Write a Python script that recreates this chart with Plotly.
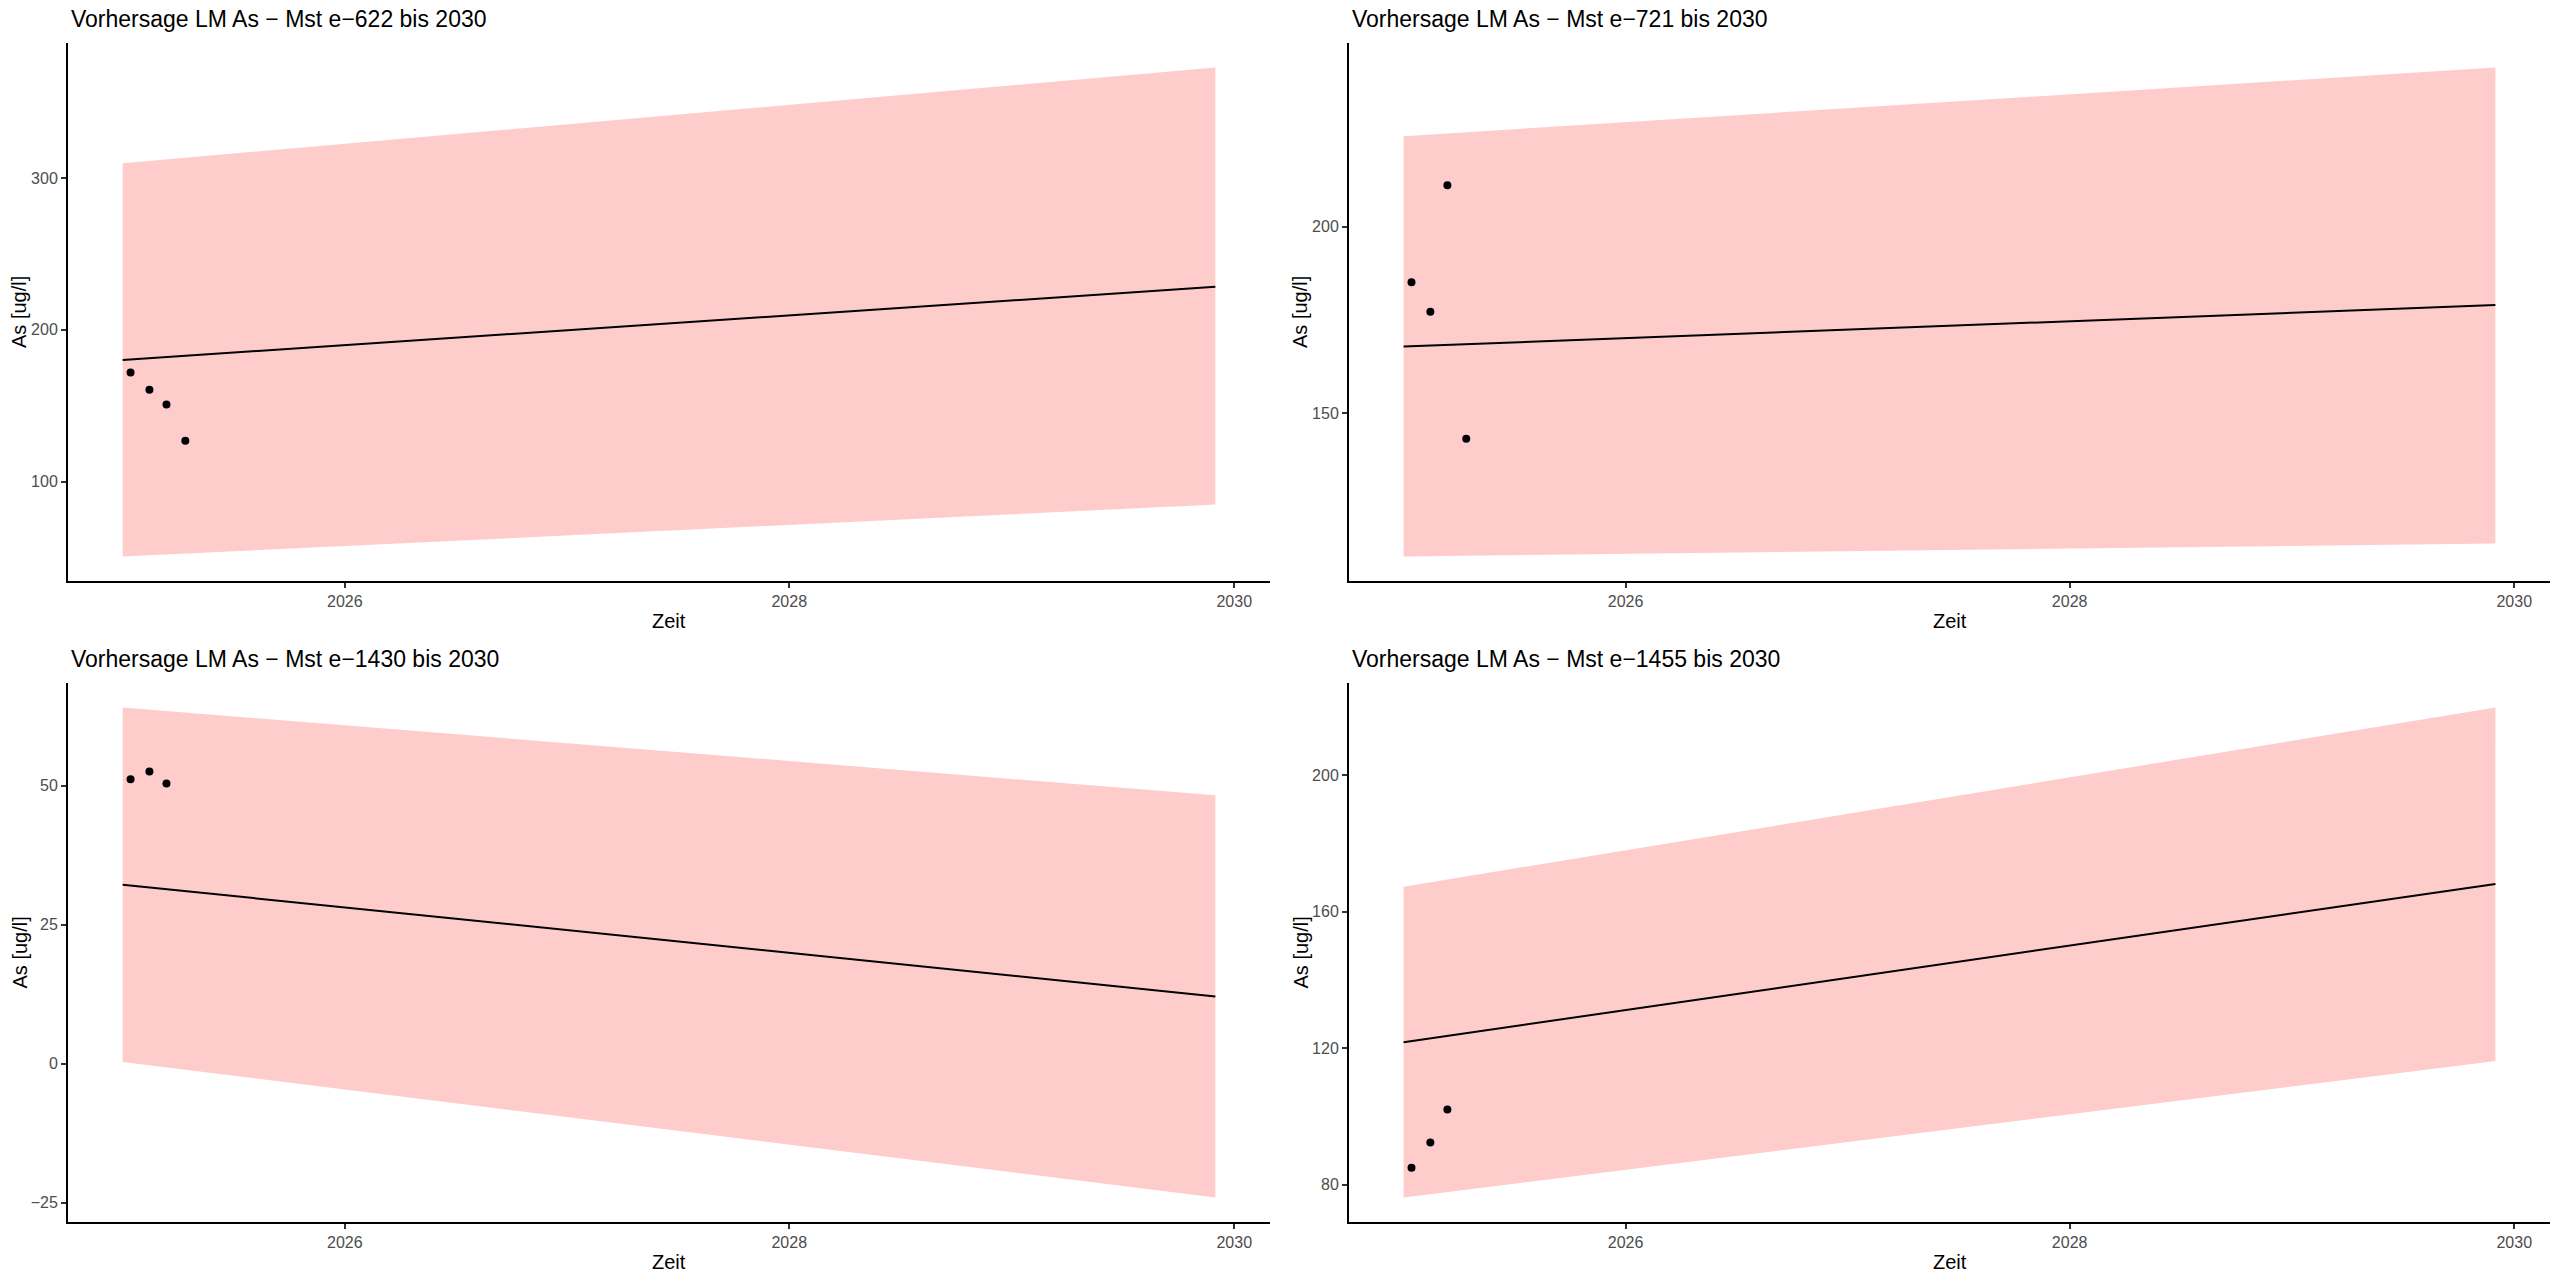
import pandas as pd
import plotly.graph_objects as go

# ---------------- data ----------------
titles = [
    "Vorhersage LM As \u2212 Mst e\u2212622 bis 2030",
    "Vorhersage LM As \u2212 Mst e\u2212721 bis 2030",
    "Vorhersage LM As \u2212 Mst e\u22121430 bis 2030",
    "Vorhersage LM As \u2212 Mst e\u22121455 bis 2030",
]

pred_dates = ["2025-01-01", "2029-12-01"]

fit_622 = [180.2, 228.3]
lower_622 = [50.8, 85.0]
upper_622 = [309.7, 372.7]
obs_dates_622 = ["2025-01-14", "2025-02-14", "2025-03-14", "2025-04-14"]
obs_622 = [172.0, 160.5, 150.9, 127.0]

fit_721 = [167.9, 179.0]
lower_721 = [111.7, 115.2]
upper_721 = [224.2, 242.6]
obs_dates_721 = ["2025-01-14", "2025-02-14", "2025-03-14", "2025-04-14"]
obs_721 = [185.1, 177.2, 211.1, 143.2]

fit_1430 = [32.2, 12.1]
lower_1430 = [0.3, -24.1]
upper_1430 = [64.1, 48.3]
obs_dates_1430 = ["2025-01-14", "2025-02-14", "2025-03-14"]
obs_1430 = [51.2, 52.6, 50.4]

fit_1455 = [121.7, 168.1]
lower_1455 = [76.2, 116.2]
upper_1455 = [167.3, 219.8]
obs_dates_1455 = ["2025-01-14", "2025-02-14", "2025-03-14"]
obs_1455 = [84.9, 92.3, 102.0]

y_dticks = [100, 50, 25, 40]
x_label = "Zeit"
y_label = "As [ug/l]"

panels = [
    (fit_622, lower_622, upper_622, obs_dates_622, obs_622),
    (fit_721, lower_721, upper_721, obs_dates_721, obs_721),
    (fit_1430, lower_1430, upper_1430, obs_dates_1430, obs_1430),
    (fit_1455, lower_1455, upper_1455, obs_dates_1455, obs_1455),
]

# ---------------- layout geometry ----------------
W, H = 2560, 1280
x_doms = [(68, 1270), (1349, 2550)]
y_doms = [(43, 581), (683, 1222)]  # top, bottom in pixels from top

FONT = "Liberation Sans, Arial, Helvetica, sans-serif"

fig = go.Figure()
annotations = []

for i, (fit, lo, up, od, ov) in enumerate(panels):
    r, c = divmod(i, 2)
    xa = "x" if i == 0 else f"x{i+1}"
    ya = "y" if i == 0 else f"y{i+1}"

    # band (polygon)
    fig.add_trace(go.Scatter(
        x=pred_dates + pred_dates[::-1],
        y=lo + up[::-1],
        fill="toself", fillcolor="rgba(255,0,0,0.2)",
        line=dict(width=0), mode="lines", hoverinfo="skip",
        xaxis=xa, yaxis=ya, showlegend=False))
    # fit line
    fig.add_trace(go.Scatter(
        x=pred_dates, y=fit, mode="lines",
        line=dict(color="black", width=2),
        xaxis=xa, yaxis=ya, showlegend=False))
    # observations
    fig.add_trace(go.Scatter(
        x=od, y=ov, mode="markers",
        marker=dict(color="black", size=8),
        xaxis=xa, yaxis=ya, showlegend=False))

    # ranges with ggplot-like 5% expansion
    d_all = pd.to_datetime(pred_dates + od)
    dmin, dmax = d_all.min(), d_all.max()
    span = dmax - dmin
    xr = [dmin - 0.05 * span, dmax + 0.05 * span]
    yvals = lo + up + fit + ov
    ymin, ymax = min(yvals), max(yvals)
    ys = ymax - ymin
    yr = [ymin - 0.05 * ys, ymax + 0.05 * ys]

    x0, x1 = x_doms[c]
    t0, t1 = y_doms[r]
    xd = [x0 / W, x1 / W]
    yd = [1 - t1 / H, 1 - t0 / H]

    axis_common = dict(
        showline=True, linecolor="black", linewidth=2,
        ticks="outside", ticklen=5, tickwidth=1.5, tickcolor="#333333",
        tickfont=dict(family=FONT, size=16, color="#4D4D4D"),
        showgrid=False, zeroline=False,
    )
    fig.layout[("xaxis" if i == 0 else f"xaxis{i+1}")] = dict(
        axis_common, domain=xd, anchor=ya, type="date",
        range=[xr[0].isoformat(), xr[1].isoformat()],
        tick0="2026-01-01", dtick="M24", tickformat="%Y",
    )
    fig.layout[("yaxis" if i == 0 else f"yaxis{i+1}")] = dict(
        axis_common, domain=yd, anchor=xa,
        range=yr, tick0=0, dtick=y_dticks[i],
    )

    # title
    annotations.append(dict(
        text=titles[i], xref="paper", yref="paper",
        x=(x0 + 1) / W, y=1 - (t0 - 24) / H, xanchor="left", yanchor="middle",
        showarrow=False, font=dict(family=FONT, size=23, color="black")))
    # x axis title
    annotations.append(dict(
        text=x_label, xref="paper", yref="paper",
        x=(x0 + x1) / 2 / W, y=1 - (t1 + 40) / H, xanchor="center", yanchor="middle",
        showarrow=False, font=dict(family=FONT, size=20, color="black")))
    # y axis title
    annotations.append(dict(
        text=y_label, xref="paper", yref="paper",
        x=(x0 - 49) / W, y=1 - (t0 + t1) / 2 / H, xanchor="center", yanchor="middle",
        textangle=-90,
        showarrow=False, font=dict(family=FONT, size=20, color="black")))

fig.update_layout(
    width=W, height=H,
    margin=dict(l=0, r=0, t=0, b=0),
    paper_bgcolor="white", plot_bgcolor="white",
    showlegend=False,
    annotations=annotations,
    font=dict(family=FONT),
)

fig.write_html("out.html")
